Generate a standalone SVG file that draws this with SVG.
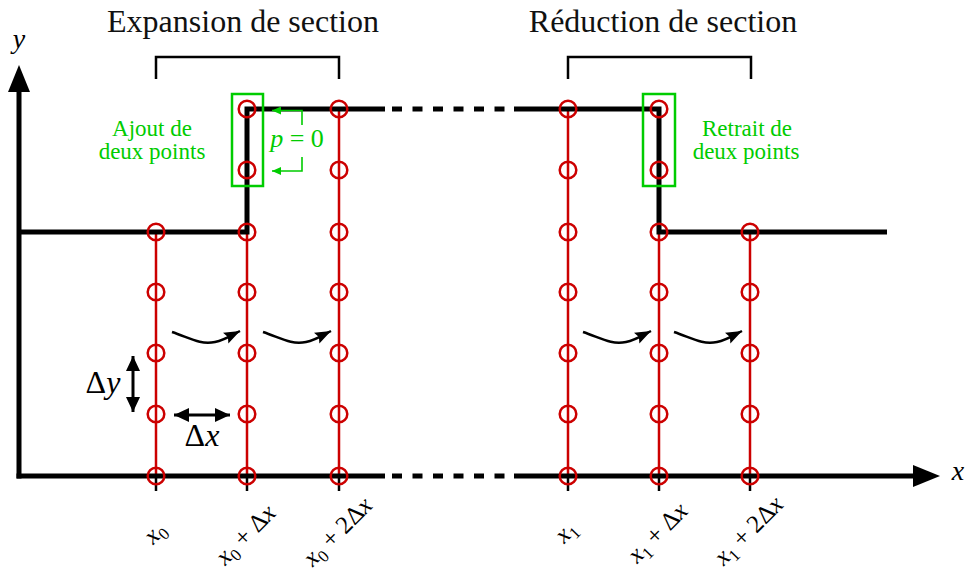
<svg xmlns="http://www.w3.org/2000/svg" width="965" height="572" viewBox="0 0 965 572">
<style>
.wall{fill:none;stroke:#000;stroke-width:5;stroke-linejoin:miter;stroke-linecap:butt}
.dash{fill:none;stroke:#000;stroke-width:5;stroke-dasharray:10 10.5}
.col{stroke:#cc0000;stroke-width:2.5;fill:none}
.pt{fill:none;stroke:#cc0000;stroke-width:2.5}
.tick{stroke:#000;stroke-width:2.5}
.br{fill:none;stroke:#000;stroke-width:2.5}
.gbox{fill:none;stroke:#00cc00;stroke-width:2.5}
.gl{fill:none;stroke:#00cc00;stroke-width:1.6}
.dim{stroke:#000;stroke-width:3;fill:none}
.cur{stroke:#000;stroke-width:2.5;fill:none}
text{font-family:'Liberation Serif','DejaVu Serif',serif}
</style>
<defs>
<marker id="dimh" markerUnits="userSpaceOnUse" markerWidth="16" markerHeight="16" viewBox="0 0 16 16" refX="15" refY="8" orient="auto-start-reverse"><path d="M0,1 L15,8 L0,15 z" fill="#000"/></marker>
<marker id="curh" markerUnits="userSpaceOnUse" markerWidth="17" markerHeight="15" viewBox="0 0 17 15" refX="16" refY="7.5" orient="auto"><path d="M0,1.5 L16,7.5 L0,13.5 L2.5,7.5 z" fill="#000"/></marker>
<marker id="grh" markerUnits="userSpaceOnUse" markerWidth="10" markerHeight="8" viewBox="0 0 10 8" refX="9" refY="4" orient="auto"><path d="M0,0 L9,4 L0,8 z" fill="#00cc00"/></marker>
<circle id="c" r="8.3" class="pt"/>
</defs>

<g id="columns">
<line class="col" x1="156" y1="232" x2="156" y2="476"/>
<line class="col" x1="247" y1="109" x2="247" y2="476"/>
<line class="col" x1="339" y1="109" x2="339" y2="476"/>
<line class="col" x1="568" y1="109" x2="568" y2="476"/>
<line class="col" x1="659" y1="109" x2="659" y2="476"/>
<line class="col" x1="750" y1="232" x2="750" y2="476"/>
</g>

<g id="axes">
<line class="wall" x1="19" y1="478.5" x2="19" y2="90"/>
<polygon points="19,65 8,92 30,92" fill="#000"/>
<line class="wall" x1="16.5" y1="476" x2="385" y2="476"/>
<line class="dash" x1="392" y1="476" x2="505" y2="476"/>
<line class="wall" x1="514" y1="476" x2="915" y2="476"/>
<polygon points="940,476 913,465 913,487" fill="#000"/>
<text x="19" y="48" font-size="28" font-style="italic" text-anchor="middle">y</text>
<text x="958" y="480" font-size="28" font-style="italic" text-anchor="middle">x</text>
</g>

<g id="ticks">
<line class="tick" x1="156" y1="476" x2="156" y2="491"/>
<line class="tick" x1="247" y1="476" x2="247" y2="491"/>
<line class="tick" x1="339" y1="476" x2="339" y2="491"/>
<line class="tick" x1="568" y1="476" x2="568" y2="491"/>
<line class="tick" x1="659" y1="476" x2="659" y2="491"/>
<line class="tick" x1="750" y1="476" x2="750" y2="491"/>
</g>

<g id="walls">
<path class="wall" d="M19,232 H247 V109 H385"/>
<line class="dash" x1="392" y1="109" x2="505" y2="109"/>
<path class="wall" d="M514,109 H659 V232 H887"/>
</g>

<g id="points">
<use href="#c" x="156" y="232"/><use href="#c" x="156" y="292"/><use href="#c" x="156" y="353"/><use href="#c" x="156" y="414"/><use href="#c" x="156" y="476"/>
<use href="#c" x="247" y="109"/><use href="#c" x="247" y="170"/><use href="#c" x="247" y="232"/><use href="#c" x="247" y="292"/><use href="#c" x="247" y="353"/><use href="#c" x="247" y="414"/><use href="#c" x="247" y="476"/>
<use href="#c" x="339" y="109"/><use href="#c" x="339" y="170"/><use href="#c" x="339" y="232"/><use href="#c" x="339" y="292"/><use href="#c" x="339" y="353"/><use href="#c" x="339" y="414"/><use href="#c" x="339" y="476"/>
<use href="#c" x="568" y="109"/><use href="#c" x="568" y="170"/><use href="#c" x="568" y="232"/><use href="#c" x="568" y="292"/><use href="#c" x="568" y="353"/><use href="#c" x="568" y="414"/><use href="#c" x="568" y="476"/>
<use href="#c" x="659" y="109"/><use href="#c" x="659" y="170"/><use href="#c" x="659" y="232"/><use href="#c" x="659" y="292"/><use href="#c" x="659" y="353"/><use href="#c" x="659" y="414"/><use href="#c" x="659" y="476"/>
<use href="#c" x="750" y="232"/><use href="#c" x="750" y="292"/><use href="#c" x="750" y="353"/><use href="#c" x="750" y="414"/><use href="#c" x="750" y="476"/>
</g>

<g id="expansion">
<path class="br" d="M156,79 V57 H339 V79"/>
<text x="243" y="32" font-size="32" fill="#111" text-anchor="middle">Expansion de section</text>
<rect class="gbox" x="232" y="94" width="31" height="92"/>
<text x="152" y="136" font-size="23" fill="#00cc00" text-anchor="middle">Ajout de</text>
<text x="152" y="159" font-size="23" fill="#00cc00" text-anchor="middle">deux points</text>
<text x="297" y="147" font-size="26" fill="#00cc00" text-anchor="middle"><tspan font-style="italic">p</tspan> = 0</text>
</g>

<g id="reduction">
<path class="br" d="M568,79 V57 H751 V79"/>
<text x="663" y="32" font-size="32" fill="#111" text-anchor="middle">Réduction de section</text>
<rect class="gbox" x="643" y="94" width="32" height="92"/>
<text x="747" y="136" font-size="23" fill="#00cc00" text-anchor="middle">Retrait de</text>
<text x="746" y="159" font-size="23" fill="#00cc00" text-anchor="middle">deux points</text>
</g>

<g id="connectors">
<path class="gl" d="M302,125 V110.5 H272" marker-end="url(#grh)"/>
<path class="gl" d="M302,157 V171 H272" marker-end="url(#grh)"/>
<path class="cur" d="M172,332 C190,338 200,345 215,342 C225,340 232,335 240,331" marker-end="url(#curh)"/>
<path class="cur" d="M263,332 C281,338 291,345 306,342 C316,340 323,335 331,331" marker-end="url(#curh)"/>
<path class="cur" d="M583,332 C601,338 611,345 626,342 C636,340 643,335 651,331" marker-end="url(#curh)"/>
<path class="cur" d="M674,332 C692,338 702,345 717,342 C727,340 734,335 742,331" marker-end="url(#curh)"/>
<line class="dim" x1="133" y1="356" x2="133" y2="412" marker-start="url(#dimh)" marker-end="url(#dimh)"/>
<line class="dim" x1="174" y1="415" x2="230" y2="415" marker-start="url(#dimh)" marker-end="url(#dimh)"/>
</g>

<g id="dimlabels">
<text x="103" y="393" font-size="32" text-anchor="middle">Δ<tspan font-style="italic">y</tspan></text>
<text x="202" y="446" font-size="32" text-anchor="middle">Δ<tspan font-style="italic">x</tspan></text>
</g>

<g id="ticklabels" font-size="25">
<text transform="translate(156,534) rotate(-45)" y="6" text-anchor="middle"><tspan font-style="italic">x</tspan><tspan font-size="17" dy="5">0</tspan></text>
<text transform="translate(247,536) rotate(-45)" y="6" text-anchor="middle"><tspan font-style="italic">x</tspan><tspan font-size="17" dy="5">0</tspan><tspan dy="-5"> + Δ</tspan><tspan font-style="italic">x</tspan></text>
<text transform="translate(339,533) rotate(-45)" y="6" text-anchor="middle"><tspan font-style="italic">x</tspan><tspan font-size="17" dy="5">0</tspan><tspan dy="-5"> + 2Δ</tspan><tspan font-style="italic">x</tspan></text>
<text transform="translate(567,533) rotate(-45)" y="6" text-anchor="middle"><tspan font-style="italic">x</tspan><tspan font-size="17" dy="5">1</tspan></text>
<text transform="translate(659,534) rotate(-45)" y="6" text-anchor="middle"><tspan font-style="italic">x</tspan><tspan font-size="17" dy="5">1</tspan><tspan dy="-5"> + Δ</tspan><tspan font-style="italic">x</tspan></text>
<text transform="translate(750,532) rotate(-45)" y="6" text-anchor="middle"><tspan font-style="italic">x</tspan><tspan font-size="17" dy="5">1</tspan><tspan dy="-5"> + 2Δ</tspan><tspan font-style="italic">x</tspan></text>
</g>
</svg>
